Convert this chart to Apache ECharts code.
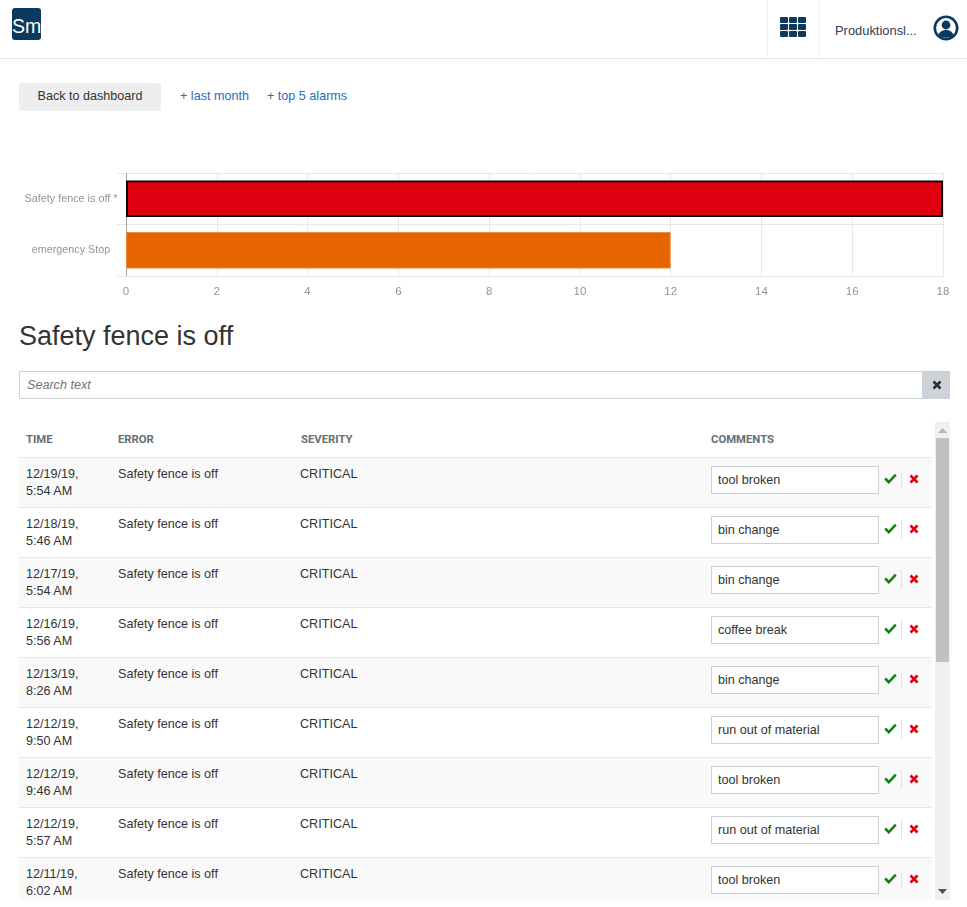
<!DOCTYPE html>
<html>
<head>
<meta charset="utf-8">
<title>Alarms</title>
<script src="https://cdn.jsdelivr.net/npm/echarts@6/dist/echarts.min.js"></script>
<style>
  html, body { margin: 0; padding: 0; background: #fff; overflow: hidden; }
  body { width: 967px; height: 907px; position: relative; font-family: "Liberation Sans", Arial, sans-serif; font-size: 12.6px; color: #333; }
  .abs { position: absolute; }
  #topbar { left: 0; top: 0; width: 967px; height: 58px; border-bottom: 1px solid #e5e5e5; }
  #logo { left: 12px; top: 8px; width: 29px; height: 32px; background: #0b3a5e; border-radius: 3px; color: #fff; font-size: 19.5px; line-height: 36px; text-align: center; }
  .divider { top: 0; width: 1px; height: 58px; background: #f1f1f1; }
  #user { left: 835px; top: 23px; color: #2c3e5a; white-space: nowrap; font-size: 12.9px; }
  #back { left: 19px; top: 83px; width: 142px; height: 28px; line-height: 26px; background: #eee; border-radius: 2px; text-align: center; }
  .link { top: 89px; color: #2b6cb8; white-space: nowrap; }
  #chart { left: 0; top: 150px; width: 967px; height: 160px; }
  h1 { position: absolute; left: 19px; top: 320px; margin: 0; font-size: 27px; line-height: 32px; font-weight: normal; color: #333; }
  #search { left: 19px; top: 371px; width: 902px; height: 26px; border: 1px solid #ccd1d6; line-height: 26px; font-style: italic; color: #6f7378; text-indent: 7px; }
  #clear { left: 922px; top: 371px; width: 28px; height: 28px; background: #ccd2d8; }
  #table { left: 19px; top: 422px; width: 913px; height: 478px; overflow: hidden; }
  .th { top: 11px; font-size: 11.3px; font-weight: bold; color: #666e75; font-family: Roboto, "Liberation Sans", sans-serif; }
  .row { position: absolute; left: 0; width: 913px; height: 49px; border-top: 1px solid #e6e6e6; }
  .row.odd { background: #f9f9f9; }
  .cell { position: absolute; top: 8px; line-height: 17px; white-space: nowrap; }
  .comment { position: absolute; left: 692px; top: 8px; width: 160px; height: 26px; border: 1px solid #ccd1d6; background: #fff; line-height: 26px; padding-left: 6px; }
  .sep { position: absolute; left: 882px; top: 12px; width: 1px; height: 19px; background: #e2e2e2; }
  .icon { position: absolute; top: 15px; }
  #scroll { left: 935px; top: 422px; width: 15px; height: 478px; background: #f0f0f0; }
  #thumb { left: 936px; top: 438px; width: 13px; height: 224px; background: #c1c1c1; }
</style>
</head>
<body>
<div id="topbar" class="abs"></div>
<div id="logo" class="abs">Sm</div>
<div class="abs divider" style="left:767px"></div>
<div class="abs divider" style="left:819px"></div>
<svg class="abs" style="left:780px;top:17px" width="26" height="20" id="apps"></svg>
<div id="user" class="abs">Produktionsl...</div>
<svg class="abs" style="left:933px;top:15px" width="26" height="26" viewBox="0 0 26 26">
  <circle cx="13" cy="13" r="11.2" fill="#fff" stroke="#0b3a5e" stroke-width="2.600"/>
  <circle cx="13" cy="10" r="4.4" fill="#0b3a5e"/>
  <path d="M5.500 20.500c.5-4 4.500-5.500 7.500-5.500s7 1.500 7.500 5.500c-3.500 3-11.500 3-15 0z" fill="#0b3a5e"/>
</svg>

<div id="back" class="abs">Back to dashboard</div>
<div class="abs link" style="left:180px">+ last month</div>
<div class="abs link" style="left:267px">+ top 5 alarms</div>

<div id="chart" class="abs"></div>

<h1>Safety fence is off</h1>
<div id="search" class="abs">Search text</div>
<div id="clear" class="abs">
  <svg style="position:absolute;left:10px;top:9px" width="10" height="10" viewBox="0 0 10 10"><path d="M1.500 1.500l7 7M8.500 1.500l-7 7" stroke="#2b2f33" stroke-width="2.600"/></svg>
</div>

<div id="table" class="abs">
  <div class="abs th" style="left:7px">TIME</div>
  <div class="abs th" style="left:99px">ERROR</div>
  <div class="abs th" style="left:282px">SEVERITY</div>
  <div class="abs th" style="left:692px">COMMENTS</div>
</div>
<div id="scroll" class="abs">
  <svg style="position:absolute;left:3px;top:6px" width="9" height="5"><path d="M0 5L4.500 0L9 5z" fill="#b5b5b5"/></svg>
  <svg style="position:absolute;left:3px;top:467px" width="9" height="5"><path d="M0 0L4.500 5L9 0z" fill="#505050"/></svg>
</div>
<div id="thumb" class="abs"></div>

<script>
// chart values
const categories = ['Safety fence is off *', 'emergency Stop'];
const alarmCounts = [18, 12];
const xTicks = { min: 0, max: 18, interval: 2 };

// table rows
const rowDates = ['12/19/19,', '12/18/19,', '12/17/19,', '12/16/19,', '12/13/19,', '12/12/19,', '12/12/19,', '12/12/19,', '12/11/19,'];
const rowTimes = ['5:54 AM', '5:46 AM', '5:54 AM', '5:56 AM', '8:26 AM', '9:50 AM', '9:46 AM', '5:57 AM', '6:02 AM'];
const rowComments = ['tool broken', 'bin change', 'bin change', 'coffee break', 'bin change', 'run out of material', 'tool broken', 'run out of material', 'tool broken'];
const rowError = 'Safety fence is off';
const rowSeverity = 'CRITICAL';

const checkIcon = '<svg class="icon" style="left:865px" width="13" height="11" viewBox="0 0 13 11"><path d="M1.200 5.500l3.600 3.600 7-7.400" fill="none" stroke="#14800f" stroke-width="2.500"/></svg>';
const crossIcon = '<svg class="icon" style="left:890px;top:16px" width="10" height="10" viewBox="0 0 10 10"><path d="M1.500 1.500l7 7M8.500 1.500l-7 7" stroke="#e1000f" stroke-width="2.600"/></svg>';

const table = document.getElementById('table');
rowDates.forEach((date, i) => {
    const row = document.createElement('div');
    row.className = i % 2 === 0 ? 'row odd' : 'row';
    row.style.top = (35 + i * 50) + 'px';
    row.innerHTML =
        `<div class="cell" style="left:7px">${date}<br>${rowTimes[i]}</div>` +
        `<div class="cell" style="left:99px">${rowError}</div>` +
        `<div class="cell" style="left:281px">${rowSeverity}</div>` +
        `<div class="comment">${rowComments[i]}</div>` +
        checkIcon + '<div class="sep"></div>' + crossIcon;
    table.appendChild(row);
});

// app launcher icon
let cells = '';
for (let r = 0; r < 3; r++) {
    for (let c = 0; c < 3; c++) {
        cells += `<rect x="${c * 9}" y="${r * 7}" width="8" height="6" rx="1" fill="#0b3a5e"/>`;
    }
}
document.getElementById('apps').innerHTML = cells;

const barStyles = [
    { color: '#e1000f', borderColor: '#000', borderWidth: 1.8 },
    { color: '#e66400', borderColor: '#f08a3c', borderWidth: 1 }
];

const chart = echarts.init(document.getElementById('chart'));
chart.setOption({
    animation: false,
    textStyle: { fontFamily: '"Liberation Sans", Arial, sans-serif' },
    grid: { left: 126, top: 23, width: 817, height: 103, containLabel: false },
    xAxis: {
        type: 'value',
        min: xTicks.min,
        max: xTicks.max,
        interval: xTicks.interval,
        axisLine: { show: false },
        axisTick: { show: false },
        axisLabel: { color: '#939393', fontSize: 11.5, margin: 10 },
        splitLine: { show: true, lineStyle: { color: '#e8e8e8', width: 1 } }
    },
    yAxis: {
        type: 'category',
        inverse: true,
        data: categories,
        axisLine: { show: true, lineStyle: { color: '#aaa', width: 1 } },
        axisTick: { show: true, length: 9, lineStyle: { color: '#e8e8e8' } },
        axisLabel: { color: '#939393', fontSize: 10.8, align: 'center', margin: 55 },
        splitLine: { show: true, lineStyle: { color: '#e8e8e8', width: 1 } }
    },
    series: [{
        type: 'bar',
        barWidth: '71%',
        data: alarmCounts.map((value, i) => ({ value, itemStyle: barStyles[i] }))
    }]
});
</script>
</body>
</html>
